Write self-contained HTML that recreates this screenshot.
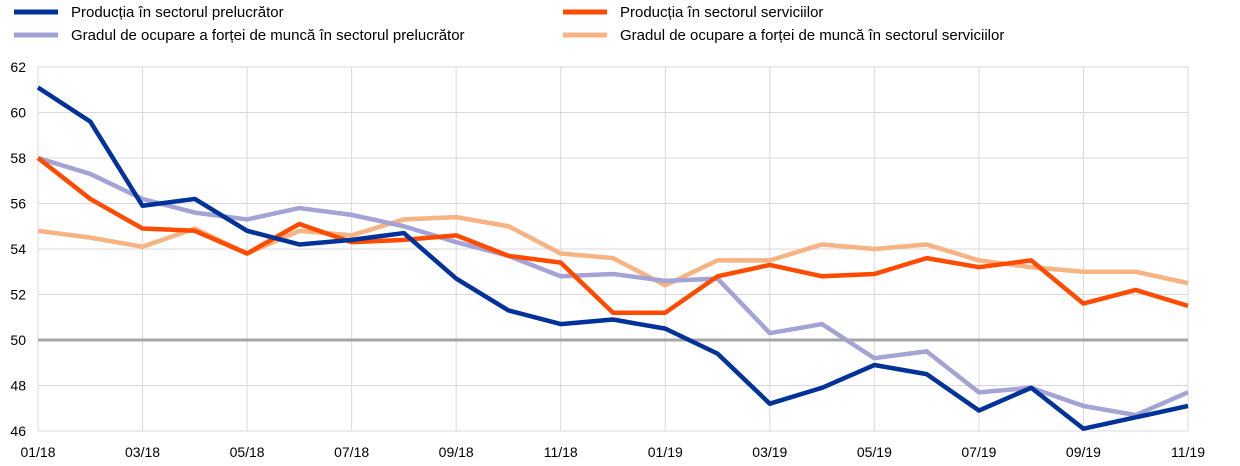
<!DOCTYPE html>
<html><head><meta charset="utf-8"><style>
body{margin:0;background:#fff;}
svg{display:block;font-family:"Liberation Sans",sans-serif;}
</style></head><body>
<svg id="c" width="1240" height="466" xmlns="http://www.w3.org/2000/svg"></svg>
<script>
const s=document.getElementById('c');
const X0=38,X1=1188,Y62=67,Y46=431;
const x=i=>X0+(X1-X0)*i/22, y=v=>Y46-(v-46)*(Y46-Y62)/16;
let h='';
for(let v=46;v<=62;v+=2){h+=`<line x1="${X0}" x2="${X1}" y1="${y(v)}" y2="${y(v)}" stroke="#d9d9d9" stroke-width="1"/>`;
h+=`<text x="26" y="${y(v)+5}" font-size="14" text-anchor="end" fill="#000">${v}</text>`;}
const lab=['01/18','03/18','05/18','07/18','09/18','11/18','01/19','03/19','05/19','07/19','09/19','11/19'];
lab.forEach((l,k)=>{const xx=x(k*2);h+=`<line x1="${xx}" x2="${xx}" y1="${Y62}" y2="${Y46}" stroke="#d9d9d9"/>`;
h+=`<text x="${xx}" y="457" font-size="14" text-anchor="middle">${l}</text>`;});
h+=`<rect x="${X0}" y="${Y62}" width="${X1-X0}" height="${Y46-Y62}" fill="none" stroke="#d9d9d9"/>`;
h+=`<line x1="${X0}" x2="${X1}" y1="${y(50)}" y2="${y(50)}" stroke="#a6a6a6" stroke-width="3"/>`;
const S=[
['#f7b482',[54.8,54.5,54.1,54.9,53.8,54.8,54.6,55.3,55.4,55.0,53.8,53.6,52.4,53.5,53.5,54.2,54.0,54.2,53.5,53.2,53.0,53.0,52.5]],
['#a3a3d6',[58.0,57.3,56.2,55.6,55.3,55.8,55.5,55.0,54.3,53.7,52.8,52.9,52.6,52.7,50.3,50.7,49.2,49.5,47.7,47.9,47.1,46.7,47.7]],
['#ff4b00',[58.0,56.2,54.9,54.8,53.8,55.1,54.3,54.4,54.6,53.7,53.4,51.2,51.2,52.8,53.3,52.8,52.9,53.6,53.2,53.5,51.6,52.2,51.5]],
['#003299',[61.1,59.6,55.9,56.2,54.8,54.2,54.4,54.7,52.7,51.3,50.7,50.9,50.5,49.4,47.2,47.9,48.9,48.5,46.9,47.9,46.1,46.6,47.1]]];
S.forEach(([c,d])=>{h+=`<polyline fill="none" stroke="${c}" stroke-width="4.5" stroke-linejoin="round" points="${d.map((v,i)=>x(i)+','+y(v)).join(' ')}"/>`;});
const L=[['#003299','Producția în sectorul prelucrător',14,12],['#ff4b00','Producția în sectorul serviciilor',563,12],
['#a3a3d6','Gradul de ocupare a forței de muncă în sectorul prelucrător',14,35],['#f7b482','Gradul de ocupare a forței de muncă în sectorul serviciilor',563,35]];
L.forEach(([c,t,lx,ly])=>{h+=`<line x1="${lx}" x2="${lx+44}" y1="${ly}" y2="${ly}" stroke="${c}" stroke-width="5"/><text x="${lx+57}" y="${ly+5}" font-size="15">${t}</text>`;});
s.innerHTML=h;
</script>
</body></html>
